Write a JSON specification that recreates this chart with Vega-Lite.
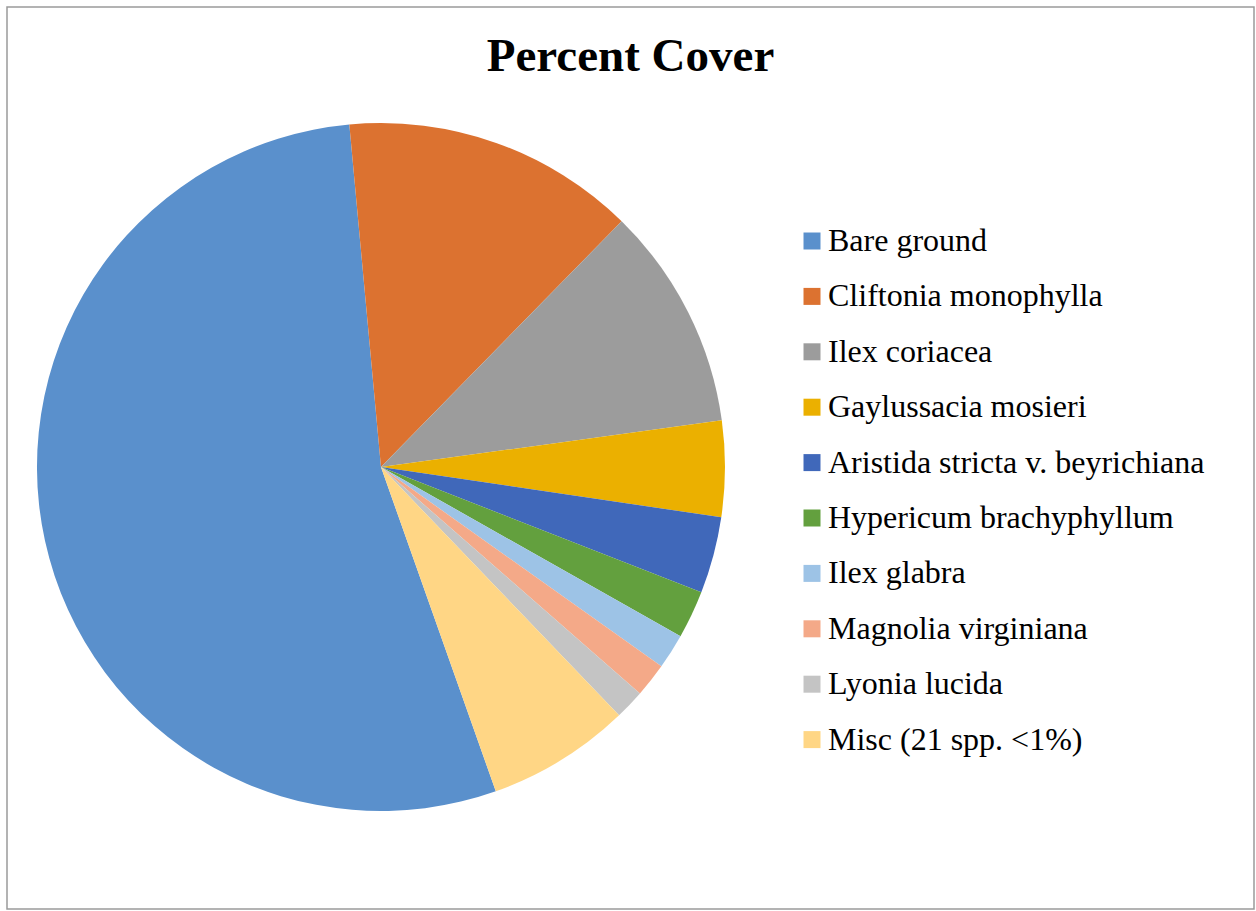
{
  "$schema": "https://vega.github.io/schema/vega-lite/v6.json",
  "autosize": {"type": "none"},
  "padding": {"left": 7, "top": 7, "right": 2, "bottom": 2},
  "width": 1247,
  "height": 902,
  "background": "white",
  "config": {
    "view": {"stroke": null},
    "font": "Liberation Serif"
  },
  "title": {
    "text": "Percent Cover",
    "font": "Liberation Serif",
    "fontSize": 47,
    "fontWeight": "bold",
    "color": "#000000",
    "anchor": "middle",
    "frame": "group",
    "baseline": "alphabetic",
    "offset": -65,
    "dy": 47
  },
  "layer": [
    {
      "data": {"values": [{"frame": "border"}]},
      "mark": {"type": "rect", "fill": null, "stroke": "#9a9a9a", "strokeWidth": 1.5},
      "encoding": {}
    },
    {
      "data": {
        "values": [
          {"species": "Bare ground", "cover": 53.95, "idx": 1},
          {"species": "Cliftonia monophylla", "cover": 13.8, "idx": 2},
          {"species": "Ilex coriacea", "cover": 10.5, "idx": 3},
          {"species": "Gaylussacia mosieri", "cover": 4.5, "idx": 4},
          {"species": "Aristida stricta v. beyrichiana", "cover": 3.6, "idx": 5},
          {"species": "Hypericum brachyphyllum", "cover": 2.25, "idx": 6},
          {"species": "Ilex glabra", "cover": 1.65, "idx": 7},
          {"species": "Magnolia virginiana", "cover": 1.6, "idx": 8},
          {"species": "Lyonia lucida", "cover": 1.4, "idx": 9},
          {"species": "Misc (21 spp. <1%)", "cover": 6.75, "idx": 10}
        ]
      },
      "mark": {
        "type": "arc",
        "outerRadius": 344,
        "x": {"expr": "width * 0.2999"},
        "y": {"expr": "height * 0.51"}
      },
      "encoding": {
        "theta": {
          "field": "cover",
          "type": "quantitative",
          "stack": true,
          "scale": {"range": [2.8013, 9.0845]}
        },
        "order": {"field": "idx", "type": "quantitative"},
        "color": {
          "field": "species",
          "type": "nominal",
          "scale": {
            "domain": ["Bare ground", "Cliftonia monophylla", "Ilex coriacea", "Gaylussacia mosieri", "Aristida stricta v. beyrichiana", "Hypericum brachyphyllum", "Ilex glabra", "Magnolia virginiana", "Lyonia lucida", "Misc (21 spp. <1%)"],
            "range": ["#5A90CC", "#DC7230", "#9C9C9C", "#EBB000", "#4068BA", "#63A03E", "#9DC3E6", "#F4A988", "#C4C4C4", "#FFD685"]
          },
          "legend": {
            "title": null,
            "orient": "none",
            "legendX": 789,
            "legendY": 218,
            "symbolType": "square",
            "symbolSize": 289,
            "symbolStrokeWidth": 0,
            "labelFont": "Liberation Serif",
            "labelFontSize": 32,
            "labelColor": "#000000",
            "labelOffset": 0,
            "labelLimit": 0,
            "rowPadding": 23.4
          }
        }
      }
    }
  ]
}
